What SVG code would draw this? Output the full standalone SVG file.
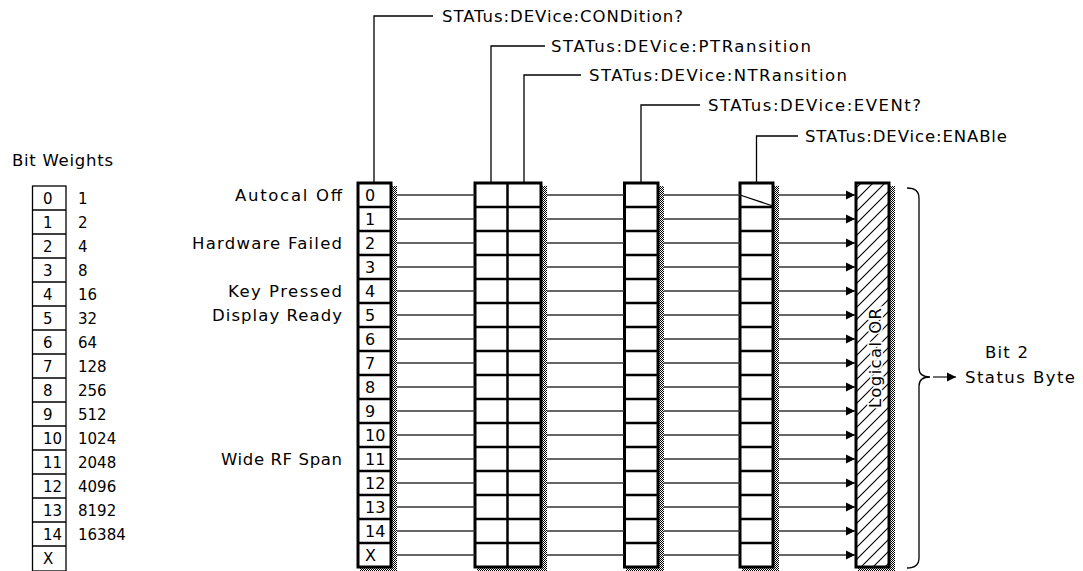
<svg xmlns="http://www.w3.org/2000/svg" width="1083" height="571" viewBox="0 0 1083 571">
<defs>
<pattern id="dots" patternUnits="userSpaceOnUse" width="2" height="2"><rect width="2" height="2" fill="#fff"/><rect width="1" height="1" fill="#000"/><rect x="1" y="1" width="1" height="1" fill="#000"/></pattern>
<pattern id="hatch" patternUnits="userSpaceOnUse" width="12" height="12"><path d="M-1,13 L13,-1 M-7,7 L7,-7 M5,19 L19,5" stroke="#000" stroke-width="1.1" fill="none"/></pattern>
<marker id="arr" markerWidth="10" markerHeight="10" refX="9" refY="5" orient="auto" markerUnits="userSpaceOnUse"><path d="M0,0.5 L9,5 L0,9.5 Z" fill="#000"/></marker>
</defs>
<style>
text{font-family:"DejaVu Sans","Liberation Sans",sans-serif;fill:#000}
.lbl{font-size:16.5px}
.num{font-size:16px}
.tnum{font-size:15px}
.box{fill:#fff;stroke:#000;stroke-width:3}
.div{stroke:#000;stroke-width:2.5}
.shd{fill:url(#dots)}
.wire{stroke:#333;stroke-width:1.4;fill:none}
.lead{stroke:#000;stroke-width:1.3;fill:none}
.thin{fill:#fff;stroke:#000;stroke-width:1.3}
</style>

<g id="bit-weights">
<text class="lbl" x="12" y="166" textLength="101">Bit Weights</text>
<rect class="thin" x="32.5" y="186" width="33.5" height="385"/>
<path class="lead" d="M32.5,210H66M32.5,234H66M32.5,258H66M32.5,282H66M32.5,306H66M32.5,330H66M32.5,354H66M32.5,378H66M32.5,402H66M32.5,426H66M32.5,450H66M32.5,474H66M32.5,498H66M32.5,522H66M32.5,546H66"/>
<g class="tnum">
<text x="43" y="204">0</text><text x="78" y="204">1</text>
<text x="43" y="228">1</text><text x="78" y="228">2</text>
<text x="43" y="252">2</text><text x="78" y="252">4</text>
<text x="43" y="276">3</text><text x="78" y="276">8</text>
<text x="43" y="300">4</text><text x="78" y="300">16</text>
<text x="43" y="324">5</text><text x="78" y="324">32</text>
<text x="43" y="348">6</text><text x="78" y="348">64</text>
<text x="43" y="372">7</text><text x="78" y="372">128</text>
<text x="43" y="396">8</text><text x="78" y="396">256</text>
<text x="43" y="420">9</text><text x="78" y="420">512</text>
<text x="43" y="444">10</text><text x="78" y="444">1024</text>
<text x="43" y="468">11</text><text x="78" y="468">2048</text>
<text x="43" y="492">12</text><text x="78" y="492">4096</text>
<text x="43" y="516">13</text><text x="78" y="516">8192</text>
<text x="43" y="540">14</text><text x="78" y="540">16384</text>
<text x="43" y="564">X</text>
</g>
</g>

<g id="row-labels" class="lbl">
<text x="235" y="201" textLength="107">Autocal Off</text>
<text x="192" y="249" textLength="150">Hardware Failed</text>
<text x="228" y="297" textLength="114">Key Pressed</text>
<text x="212" y="321" textLength="130">Display Ready</text>
<text x="221" y="465" textLength="121">Wide RF Span</text>
</g>

<g id="condition-register">
<rect class="shd" x="391" y="186" width="6" height="383"/>
<rect class="shd" x="360" y="567" width="37" height="4"/>
<rect class="box" x="358" y="183" width="33" height="384"/>
<path class="div" d="M358,207H391M358,231H391M358,255H391M358,279H391M358,303H391M358,327H391M358,351H391M358,375H391M358,399H391M358,423H391M358,447H391M358,471H391M358,495H391M358,519H391M358,543H391"/>
<g class="num">
<text x="365" y="201">0</text><text x="365" y="225">1</text><text x="365" y="249">2</text><text x="365" y="273">3</text>
<text x="365" y="297">4</text><text x="365" y="321">5</text><text x="365" y="345">6</text><text x="365" y="369">7</text>
<text x="365" y="393">8</text><text x="365" y="417">9</text><text x="365" y="441">10</text><text x="365" y="465">11</text>
<text x="365" y="489">12</text><text x="365" y="513">13</text><text x="365" y="537">14</text><text x="365" y="561">X</text>
</g>
</g>

<g id="transition-registers">
<rect class="shd" x="541" y="186" width="6" height="383"/>
<rect class="shd" x="477" y="567" width="70" height="4"/>
<rect class="box" x="475" y="183" width="66" height="384"/>
<path class="div" d="M507.5,183V567"/>
<path class="div" d="M475,207H541M475,231H541M475,255H541M475,279H541M475,303H541M475,327H541M475,351H541M475,375H541M475,399H541M475,423H541M475,447H541M475,471H541M475,495H541M475,519H541M475,543H541"/>
</g>

<g id="event-register">
<rect class="shd" x="658" y="186" width="6" height="383"/>
<rect class="shd" x="626" y="567" width="38" height="4"/>
<rect class="box" x="624.5" y="183" width="33.5" height="384"/>
<path class="div" d="M624.5,207H658M624.5,231H658M624.5,255H658M624.5,279H658M624.5,303H658M624.5,327H658M624.5,351H658M624.5,375H658M624.5,399H658M624.5,423H658M624.5,447H658M624.5,471H658M624.5,495H658M624.5,519H658M624.5,543H658"/>
</g>

<g id="enable-register">
<rect class="shd" x="773" y="186" width="6" height="383"/>
<rect class="shd" x="742" y="567" width="37" height="4"/>
<rect class="box" x="740" y="183" width="33" height="384"/>
<path class="div" d="M740,207H773M740,231H773M740,255H773M740,279H773M740,303H773M740,327H773M740,351H773M740,375H773M740,399H773M740,423H773M740,447H773M740,471H773M740,495H773M740,519H773M740,543H773"/>
<path class="lead" d="M740,195L773,206"/>
</g>

<g id="logical-or">
<rect class="shd" x="889" y="186" width="6" height="383"/>
<rect class="shd" x="858" y="567" width="37" height="4"/>
<rect x="856" y="183" width="33" height="384" fill="url(#hatch)"/>
<rect x="856" y="183" width="33" height="384" fill="none" stroke="#000" stroke-width="3"/>
<text class="lbl" transform="translate(881,358) rotate(-90)" text-anchor="middle" textLength="100" stroke="#fff" stroke-width="3.5" paint-order="stroke">Logical OR</text>
</g>

<g id="output">
<path class="lead" d="M907,188Q919,188 919,198L919,368Q919,377 930,377Q919,377 919,386L919,558Q919,568 907,568"/>
<text class="lbl" x="985" y="358" textLength="43">Bit 2</text>
<text class="lbl" x="965" y="383" textLength="110">Status Byte</text>
</g>

<g id="labels" class="lbl">
<text x="442" y="22" textLength="241">STATus:DEVice:CONDition?</text>
<text x="551" y="52" textLength="260">STATus:DEVice:PTRansition</text>
<text x="589" y="81" textLength="258">STATus:DEVice:NTRansition</text>
<text x="708" y="111" textLength="213">STATus:DEVice:EVENt?</text>
<text x="805" y="142" textLength="202">STATus:DEVice:ENABle</text>
</g>

<g id="connectors">
<path class="lead" d="M374,183V16H433M491,183V46H545M524,183V75H581M641,183V105H700M756.5,183V136H798"/>
<path class="wire" d="M397,195H475M397,219H475M397,243H475M397,267H475M397,291H475M397,315H475M397,339H475M397,363H475M397,387H475M397,411H475M397,435H475M397,459H475M397,483H475M397,507H475M397,531H475M397,555H475"/>
<path class="wire" d="M547,195H624M547,219H624M547,243H624M547,267H624M547,291H624M547,315H624M547,339H624M547,363H624M547,387H624M547,411H624M547,435H624M547,459H624M547,483H624M547,507H624M547,531H624M547,555H624"/>
<path class="wire" d="M664,195H740M664,219H740M664,243H740M664,267H740M664,291H740M664,315H740M664,339H740M664,363H740M664,387H740M664,411H740M664,435H740M664,459H740M664,483H740M664,507H740M664,531H740M664,555H740"/>
<g class="wire" marker-end="url(#arr)">
<path d="M779,195H855"/><path d="M779,219H855"/><path d="M779,243H855"/><path d="M779,267H855"/>
<path d="M779,291H855"/><path d="M779,315H855"/><path d="M779,339H855"/><path d="M779,363H855"/>
<path d="M779,387H855"/><path d="M779,411H855"/><path d="M779,435H855"/><path d="M779,459H855"/>
<path d="M779,483H855"/><path d="M779,507H855"/><path d="M779,531H855"/><path d="M779,555H855"/>
</g>
<path class="wire" d="M933,377H956" marker-end="url(#arr)"/>
</g>
</svg>
